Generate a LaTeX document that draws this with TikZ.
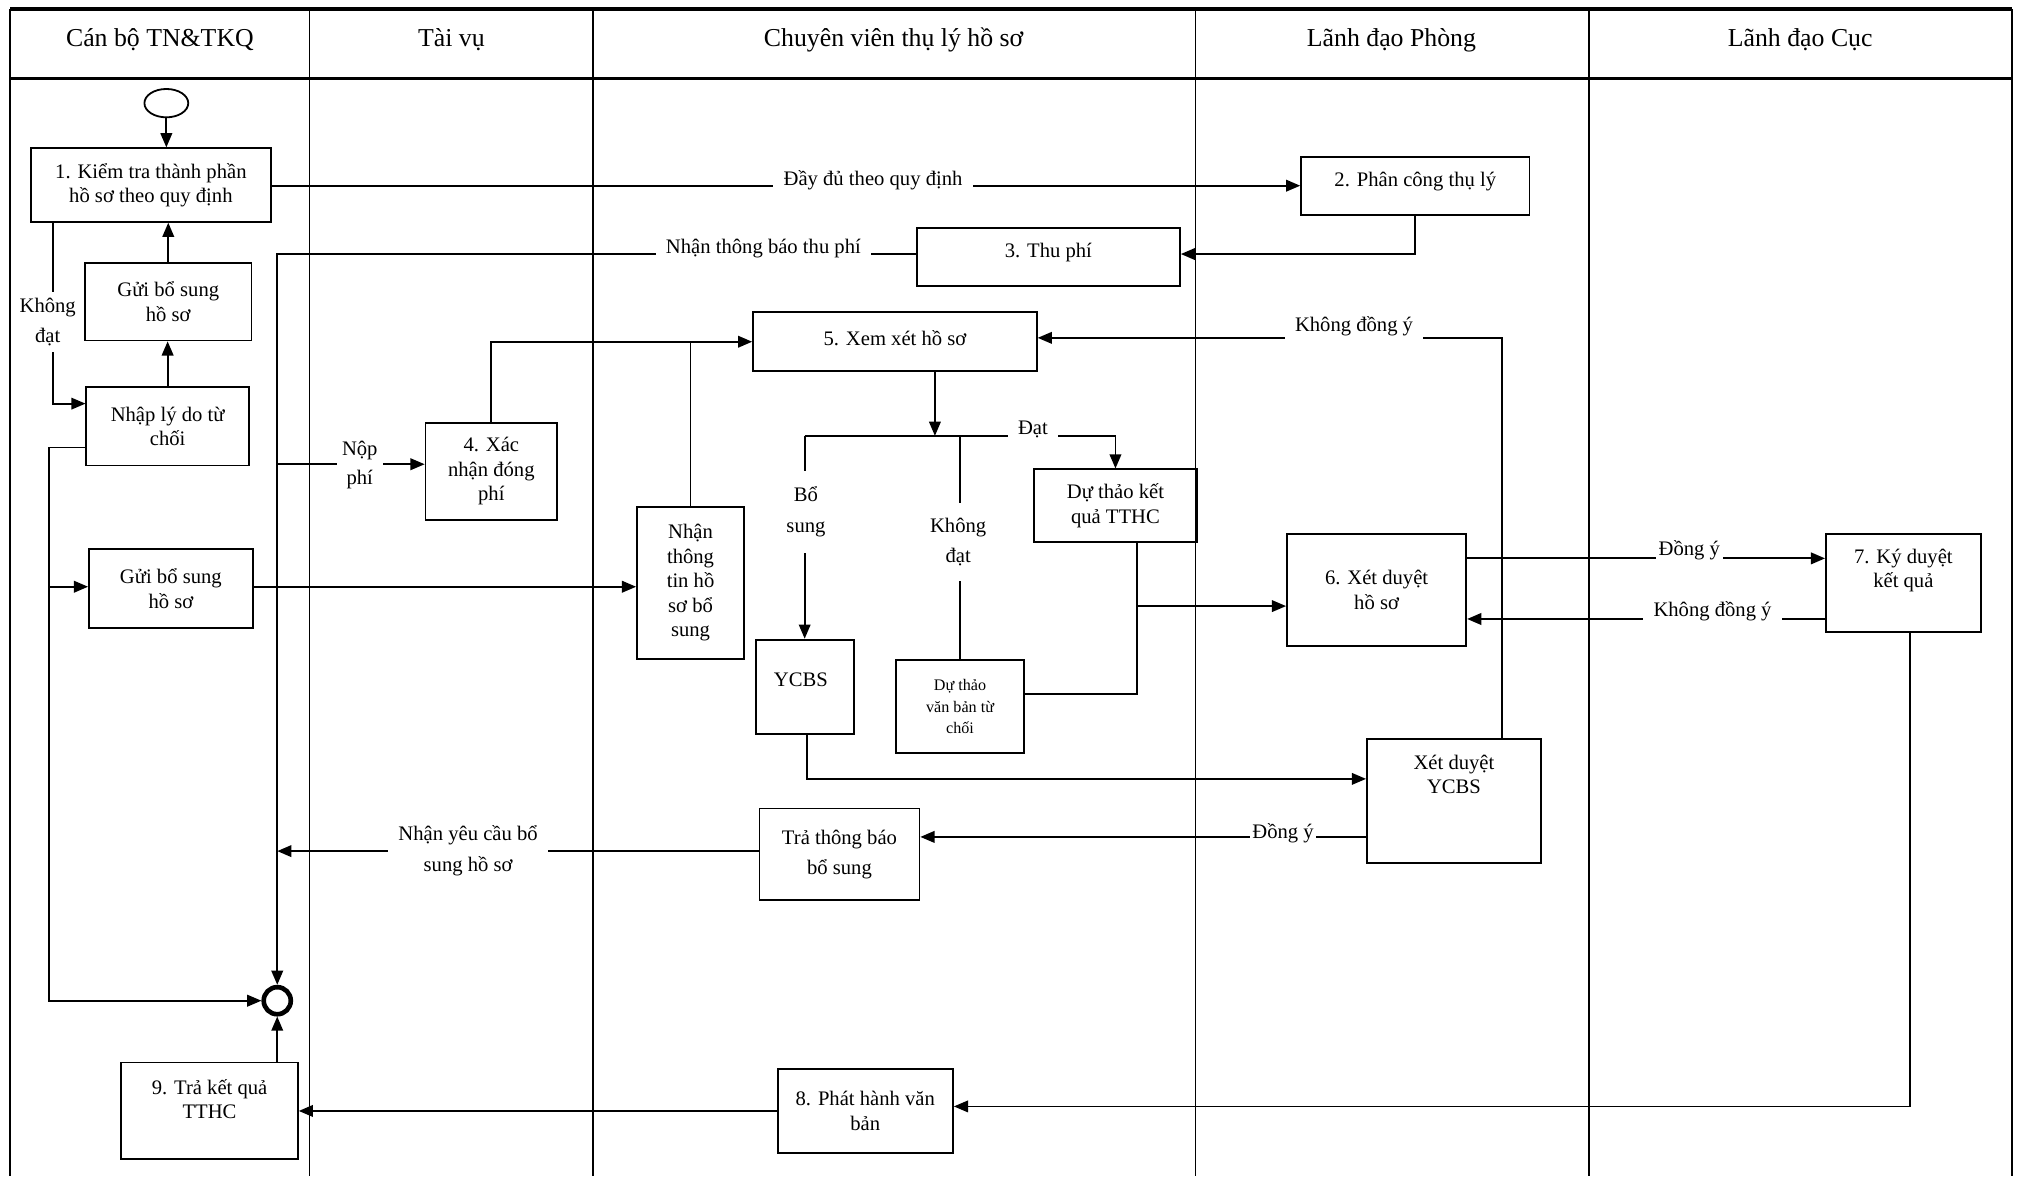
\documentclass[tikz,border=0pt]{standalone}
\usepackage{fontspec}
\setmainfont{Liberation Serif}
\usetikzlibrary{arrows.meta,shapes.geometric}
\begin{document}
\begin{tikzpicture}[x=1pt,y=-1pt,
  lane/.style={line width=1.4pt},
  frameline/.style={line width=2.8pt},
  box/.style={draw, line width=1.4pt, inner sep=0pt},
  txt/.style={font=\fontsize{16}{19}\selectfont, align=center},
  smalltxt/.style={font=\fontsize{12.5}{16.5}\selectfont, align=center},
  hdr/.style={font=\fontsize{20}{24}\selectfont, inner sep=0pt},
  conn/.style={line width=1.4pt},
  arr/.style={conn, -{Triangle[length=11pt,width=9pt]}},
  lbl/.style={fill=white, inner xsep=8pt, inner ysep=5pt, font=\fontsize{16}{19}\selectfont, align=center},
]
\useasboundingbox (0,0) rectangle (1568,912);
% frame and lanes
\draw[frameline] (8,7) -- (1560,7);
\draw[frameline] (8,61) -- (1560,61);
\foreach \x in {8,240,460,927,1232,1560} \draw[lane] (\x,7) -- (\x,912);
\node[hdr] (h1) at (124,31) {Cán bộ TN\&TKQ};
\node[hdr] (h2) at (350,31) {Tài vụ};
\node[hdr] (h3) at (693,31) {Chuyên viên thụ lý hồ sơ};
\node[hdr] (h4) at (1079,31) {Lãnh đạo Phòng};
\node[hdr] (h5) at (1396,31) {Lãnh đạo Cục};

% nodes
\node[draw, ellipse, line width=1.4pt, minimum width=34pt, minimum height=22pt, inner sep=0pt] (st) at (129,80) {};
\node[draw, circle, line width=3.6pt, minimum size=21pt, inner sep=0pt] (en) at (215,776) {};
\node[box, txt, minimum width=186pt, minimum height=57pt] (b1) at (117,143.5) {1. Kiểm tra thành phần\\hồ sơ theo quy định};
\node[box, txt, minimum width=129pt, minimum height=60pt] (gs1) at (130.5,234) {Gửi bổ sung\\hồ sơ};
\node[box, txt, minimum width=126pt, minimum height=61pt] (nl) at (130,330.5) {Nhập lý do từ\\chối};
\node[box, txt, minimum width=127pt, minimum height=61pt] (gs2) at (132.5,456.5) {Gửi bổ sung\\hồ sơ};
\node[box, minimum width=137pt, minimum height=75pt] (b9) at (162.5,861.5) {};
\node[txt, inner sep=0pt] (b9t) at (162.5,852.5) {9. Trả kết quả\\TTHC};
\node[box, txt, minimum width=102pt, minimum height=75pt] (b4) at (381,365.5) {4. Xác\\nhận đóng\\phí};
\node[box, minimum width=204pt, minimum height=45pt] (b3) at (813,199.5) {};
\node[txt, inner sep=0pt] (b3t) at (813,196) {3. Thu phí};
\node[box, minimum width=220pt, minimum height=46pt] (b5) at (694,265) {};
\node[txt, inner sep=0pt] (b5t) at (694,262) {5. Xem xét hồ sơ};
\node[box, txt, minimum width=83pt, minimum height=118pt] (nt) at (535.5,452) {Nhận\\thông\\tin hồ\\sơ bổ\\sung};
\node[box, txt, minimum width=126pt, minimum height=56pt] (dk) at (865,392) {Dự thảo kết\\quả TTHC};
\node[box, minimum width=76pt, minimum height=73pt] (ycbs) at (624,532.5) {};
\node[txt, inner sep=0pt] (ycbst) at (621,527) {YCBS};
\node[box, smalltxt, minimum width=99pt, minimum height=72pt] (dv) at (744.5,548) {Dự thảo\\văn bản từ\\chối};
\node[box, txt, minimum width=124pt, minimum height=71pt] (tb) at (651,662.5) {Trả thông báo\\[4pt]bổ sung};
\node[box, txt, minimum width=136pt, minimum height=65pt] (b8) at (671,861.5) {8. Phát hành văn\\bản};
\node[box, minimum width=177pt, minimum height=45pt] (b2) at (1097.5,144.5) {};
\node[txt, inner sep=0pt] (b2t) at (1097.5,141) {2. Phân công thụ lý};
\node[box, txt, minimum width=139pt, minimum height=87pt] (b6) at (1067.5,457.5) {6. Xét duyệt\\hồ sơ};
\node[box, minimum width=135pt, minimum height=96pt] (xy) at (1127.5,621) {};
\node[txt, inner sep=0pt] (xyt) at (1127.5,600.5) {Xét duyệt\\YCBS};
\node[box, minimum width=120pt, minimum height=76pt] (b7) at (1476,452) {};
\node[txt, inner sep=0pt] (b7t) at (1476,442.5) {7. Ký duyệt\\kết quả};

% connectors
\draw[arr] (st.south) -- (st.south |- b1.north);
\draw[arr] (nl.north) -- (nl.north |- gs1.south);
\draw[arr] (gs1.north) -- (gs1.north |- b1.south);
\draw[arr] (b1.south -| 41,0) -- (41,313) -- (nl.west |- 0,313);
\draw[arr] (nl.west |- 0,347) -- (38,347) -- (38,776) -- (en.west);
\coordinate (j1) at (38,455);
\draw[arr] (j1) -- (j1 -| gs2.west);
\draw[arr] (gs2.east |- 0,455) -- (nt.west |- 0,455);
\draw[arr] (b1.east |- 0,144) -- (b2.west |- 0,144);
\draw[arr] (b2.south) -- (b2.south |- 0,197) -- (b3.east |- 0,197);
\draw[arr] (b3.west |- 0,197) -- (en.north |- 0,197) -- (en.north);
\coordinate (np) at (en.north |- 0,360);
\draw[arr] (np) -- (np -| b4.west);
\draw[arr] (b4.north) -- (b4.north |- 0,265) -- (b5.west |- 0,265);
\draw[conn] (nt.north) -- (nt.north |- 0,265);
\coordinate (split) at (725,338);
\draw[arr] (b5.south -| split) -- (split);
\draw[arr] (split -| ycbs.north) -- (ycbs.north);
\draw[arr] (split -| ycbs.north) -- (split -| dk.north) -- (dk.north);
\draw[conn] (split -| dv.north) -- (dv.north);
\coordinate (j3) at (882,470);
\draw[conn] (dk.south -| j3) -- (j3 |- 0,538) -- (dv.east |- 0,538);
\draw[arr] (j3) -- (j3 -| b6.west);
\draw[arr] (ycbs.south -| 626,0) -- (626,604) -- (xy.west |- 0,604);
\draw[arr] (xy.north -| 1165,0) -- (1165,262) -- (b5.east |- 0,262);
\draw[arr] (b6.east |- 0,433) -- (b7.west |- 0,433);
\draw[arr] (b7.west |- 0,480) -- (b6.east |- 0,480);
\draw[arr] (xy.west |- 0,649) -- (tb.east |- 0,649);
\draw[arr] (tb.west |- 0,660) -- (en.north |- 0,660);
\draw[arr] (b7.south -| 1481,0) -- (1481,858) -- (b8.east |- 0,858);
\draw[arr] (b8.west) -- (b8.west -| b9.east);
\draw[arr] (b9.north -| en) -- (en.south);

% labels
\node[lbl, inner xsep=3pt] (l1) at (37,249.5) {Không\\[4pt]đạt};
\node[lbl] (l2) at (677,140) {Đầy đủ theo quy định};
\node[lbl] (l3) at (592,193) {Nhận thông báo thu phí};
\node[lbl, inner xsep=4pt] (l4) at (279,360.5) {Nộp\\[4pt]phí};
\node[lbl] (l5) at (801,333) {Đạt};
\node[lbl, inner ysep=12pt] (l6) at (625,397) {Bổ\\[5pt]sung};
\node[lbl, inner ysep=12pt] (l7) at (743,420.5) {Không\\[4pt]đạt};
\node[lbl] (l8) at (1050,253) {Không đồng ý};
\node[lbl, inner xsep=2pt] (l9) at (1310,427) {Đồng ý};
\node[lbl] (l10) at (1328,474) {Không đồng ý};
\node[lbl, inner xsep=2pt] (l11) at (995,646) {Đồng ý};
\node[lbl] (l12) at (363,660) {Nhận yêu cầu bổ\\[5pt]sung hồ sơ};
\end{tikzpicture}
\end{document}
